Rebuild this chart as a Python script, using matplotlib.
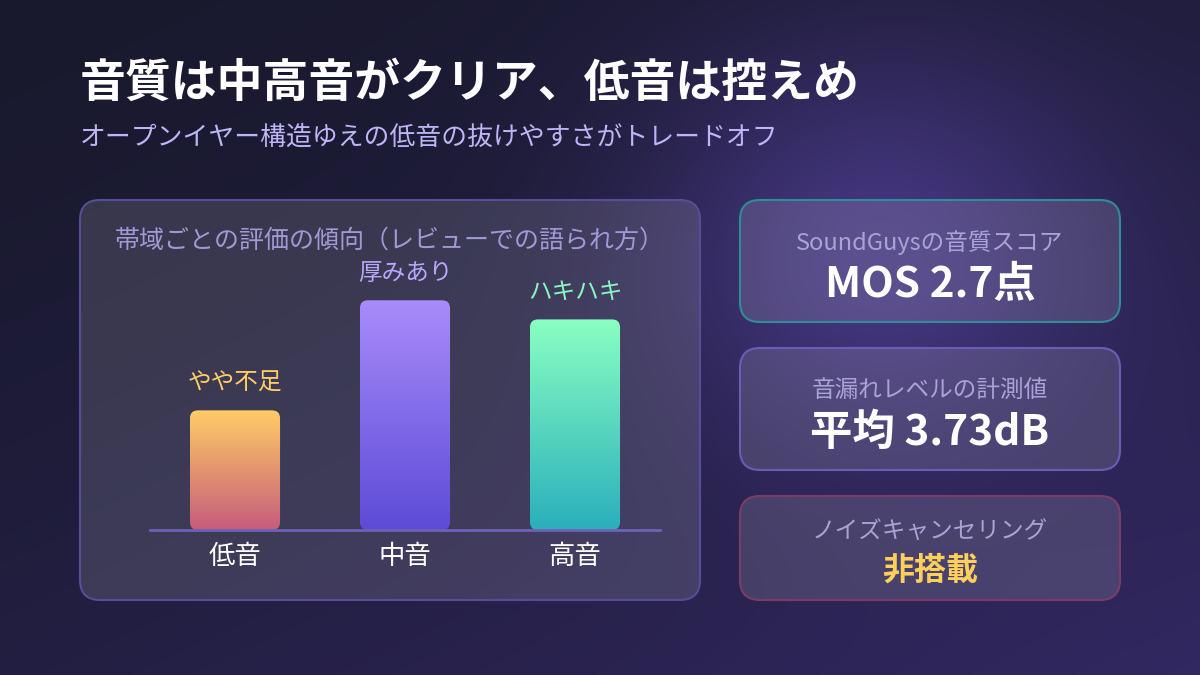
import numpy as np
import matplotlib
matplotlib.use("Agg")
import matplotlib.pyplot as plt
from matplotlib.patches import FancyBboxPatch
from matplotlib.colors import LinearSegmentedColormap

plt.rcParams['font.family'] = ['Noto Sans CJK JP', 'DejaVu Sans']

# ---------------- data ----------------
title = "音質は中高音がクリア、低音は控えめ"
subtitle = "オープンイヤー構造ゆえの低音の抜けやすさがトレードオフ"
panel_title = "帯域ごとの評価の傾向（レビューでの語られ方）"
categories = ["低音", "中音", "高音"]
values = [2.5, 4.8, 4.4]
value_labels = ["やや不足", "厚みあり", "ハキハキ"]
label_colors = ["#ffcf66", "#b9a6ff", "#88f8bf"]
bar_top_colors = ["#ffcd66", "#a88cfa", "#8affc2"]
bar_bottom_colors = ["#c65c7b", "#5d4bd7", "#2aafbb"]

card_labels = ["SoundGuysの音質スコア", "音漏れレベルの計測値", "ノイズキャンセリング"]
card_values = ["MOS 2.7点", "平均 3.73dB", "非搭載"]
card_value_colors = ["#ffffff", "#ffffff", "#ffcf5c"]
card_edge_colors = ["#2e8d98", "#6b5cb5", "#7b3d67"]

# ---------------- figure ----------------
W, H = 1200, 675
fig = plt.figure(figsize=(12, 6.75), dpi=100)

bg = fig.add_axes([0, 0, 1, 1])
bg.set_xlim(0, W)
bg.set_ylim(H, 0)
bg.axis("off")

yy, xx = np.mgrid[0:H, 0:W].astype(float)
t = np.clip((xx / W) * 0.45 + (yy / H) * 0.55, 0, 1)
c0 = np.array([25, 25, 46]) / 255
c1 = np.array([50, 40, 98]) / 255
img = c0 + (c1 - c0) * (t[..., None] ** 1.6)
d = np.sqrt((xx - 880) ** 2 + ((yy - 255) * 1.1) ** 2)
g = np.exp(-(d / 230) ** 2)[..., None] * 0.85
glow = np.array([74, 58, 138]) / 255
img = img * (1 - g) + glow * g
bg.imshow(img, extent=(0, W, H, 0), aspect="auto", zorder=0)

# title / subtitle
bg.text(80, 84, title, fontsize=33, fontweight="bold", color="white",
        va="center", ha="left")
bg.text(80, 137, subtitle, fontsize=18.6, color="#bdb5f5", va="center", ha="left")

def card(x0, y0, x1, y1, edge, r=20):
    p = FancyBboxPatch((x0, y0), x1 - x0, y1 - y0,
                       boxstyle=f"round,pad=0,rounding_size={r}",
                       facecolor=(1, 1, 1, 0.13), edgecolor=edge, lw=1.5, zorder=1)
    bg.add_patch(p)

# left panel
card(80, 200, 700, 600, "#574d98")
bg.text(390, 241, panel_title, fontsize=18, color="#9f9ad6", ha="center", va="center")

# right cards
card_boxes = [(200, 322), (348, 470), (496, 600)]
label_y = [243, 391, 532]
value_y = [285, 433, 571]
value_size = [30.5, 30.5, 23]
for i in range(3):
    y0, y1 = card_boxes[i]
    card(740, y0, 1120, y1, card_edge_colors[i])
    bg.text(930, label_y[i], card_labels[i], fontsize=17, color="#aaa4d6",
            ha="center", va="center")
    bg.text(930, value_y[i], card_values[i], fontsize=value_size[i],
            fontweight="bold", color=card_value_colors[i], ha="center", va="center")

# ---------------- bar chart ----------------
ax_l, ax_r, ax_b, ax_t = 150, 660, 530, 250
ax = fig.add_axes([ax_l / W, (H - ax_b) / H, (ax_r - ax_l) / W, (ax_b - ax_t) / H])
ax.patch.set_alpha(0)
for s in ax.spines.values():
    s.set_visible(False)
xpos = np.arange(len(categories))
xlim = (-0.5, 2.5)
ylim = (0, 5.85)
bars = ax.bar(xpos, values, width=0.53, color="none", edgecolor="none")

px_per_x = (ax_r - ax_l) / (xlim[1] - xlim[0])
px_per_y = (ax_b - ax_t) / (ylim[1] - ylim[0])
rpx = 8
grad = np.linspace(0, 1, 256).reshape(-1, 1)
for i, rect in enumerate(bars):
    x0, w, h = rect.get_x(), rect.get_width(), rect.get_height()
    patch = FancyBboxPatch((x0, 0), w, h,
                           boxstyle=f"round,pad=0,rounding_size={rpx / px_per_x}",
                           mutation_aspect=px_per_x / px_per_y,
                           facecolor="none", edgecolor="none", transform=ax.transData)
    ax.add_patch(patch)
    cmap = LinearSegmentedColormap.from_list(f"g{i}", [bar_bottom_colors[i], bar_top_colors[i]])
    im = ax.imshow(grad, cmap=cmap, extent=(x0, x0 + w, 0, h), origin="lower",
                   aspect="auto", zorder=2)
    im.set_clip_path(patch)
    ax.annotate(value_labels[i], (rect.get_x() + w / 2, h), xytext=(0, 19.5),
                textcoords="offset points", ha="center", va="center",
                fontsize=17, color=label_colors[i])

ax.axhline(0, color="#6d61b8", lw=2, zorder=3, clip_on=False)
ax.set_xlim(*xlim)
ax.set_ylim(*ylim)
ax.set_yticks([])
ax.set_xticks(xpos)
ax.set_xticklabels(categories, fontsize=19, color="white")
ax.tick_params(axis="x", length=0, pad=9)

fig.savefig("out.png", dpi=100)
